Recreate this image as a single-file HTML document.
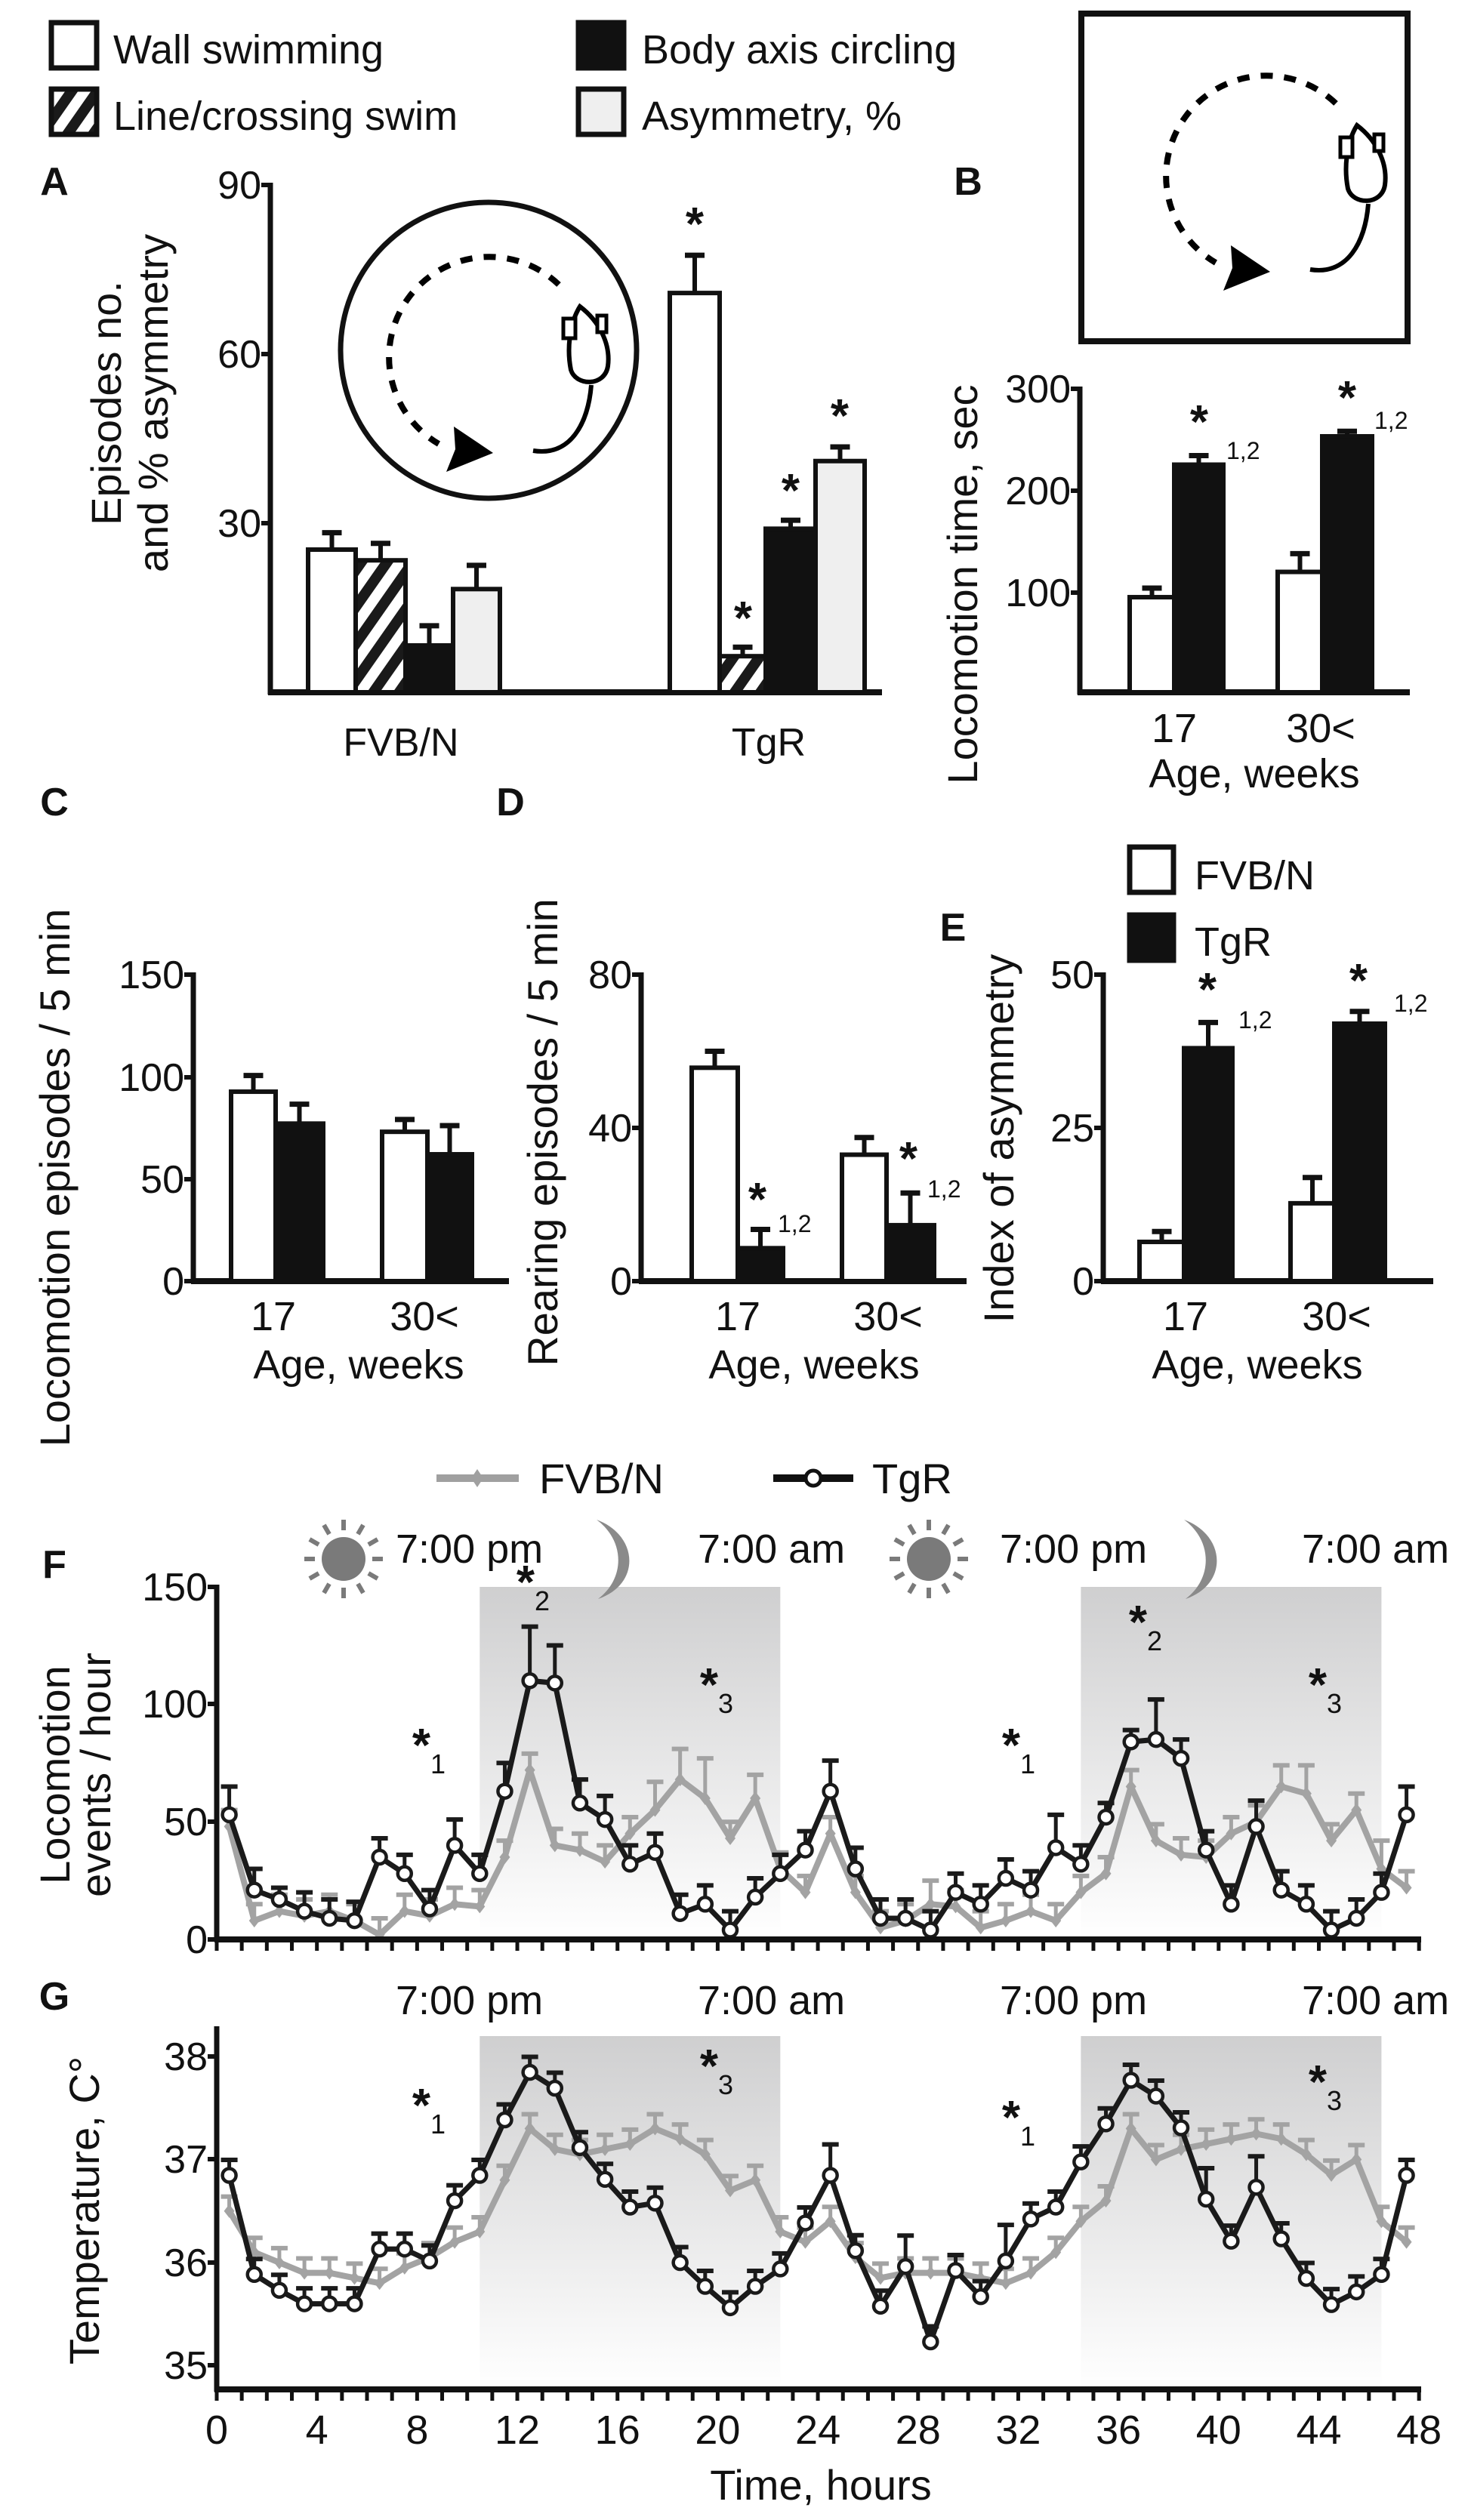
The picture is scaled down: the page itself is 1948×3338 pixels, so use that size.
<!DOCTYPE html>
<html><head><meta charset="utf-8">
<style>
html,body{margin:0;padding:0;background:#fff;}
svg{display:block;}
text{font-family:"Liberation Sans",Arial,sans-serif;fill:#111;}
</style></head>
<body>
<svg id="s" xmlns="http://www.w3.org/2000/svg" width="1948" height="3338" viewBox="0 0 1948 3338">
<defs>
<pattern id="hatch" patternUnits="userSpaceOnUse" width="28" height="28" patternTransform="rotate(35)">
<rect width="28" height="28" fill="#fff"/><rect width="14" height="28" fill="#1a1a1a"/>
</pattern>
<linearGradient id="shade" x1="0" y1="0" x2="0" y2="1">
<stop offset="0" stop-color="#cfcfd0"/><stop offset="1" stop-color="#ffffff"/>
</linearGradient>
<g id="mouse">
<path d="M1769,137 A133,133 0 1 0 1610,348" fill="none" stroke="#000" stroke-width="8" stroke-dasharray="16,15"/>
<polygon points="1630,325 1682,360 1620,385 1632,355" fill="#000"/>
<path d="M1797,166 C1782,190 1780,225 1785,250 C1792,272 1830,272 1834,245 C1838,215 1822,185 1797,166 Z" fill="#fff" stroke="#000" stroke-width="6"/>
<rect x="1775" y="182" width="16" height="26" fill="#fff" stroke="#000" stroke-width="5"/>
<rect x="1820" y="178" width="12" height="22" fill="#fff" stroke="#000" stroke-width="5"/>
<path d="M1812,270 C1808,320 1785,365 1735,357" fill="none" stroke="#000" stroke-width="6"/>
</g>
</defs>
<g id="root"></g>
</svg>
<script>
const NS="http://www.w3.org/2000/svg";
const root=document.getElementById('root');
function el(tag,attrs,txt){const e=document.createElementNS(NS,tag);for(const k in attrs)e.setAttribute(k,attrs[k]);if(txt!==undefined)e.textContent=txt;root.appendChild(e);return e;}
function line(x1,y1,x2,y2,c,w){return el('line',{x1,y1,x2,y2,stroke:c||'#111','stroke-width':w||6});}
function txt(x,y,s,size,anchor,extra){const a={x,y,'font-size':size||52,'text-anchor':anchor||'start'};Object.assign(a,extra||{});return el('text',a,s);}
function star(x,y,sub,size){const t=txt(x,y,'*',size||62,'middle',{'font-weight':'bold'});if(sub){const ts=document.createElementNS(NS,'tspan');ts.setAttribute('font-size',36);ts.setAttribute('dy',16);ts.setAttribute('font-weight','normal');ts.textContent=sub;t.appendChild(ts);}}
function small(x,y,s){txt(x,y,s,32,'start');}
function rotText(x,y,s,size){txt(x,y,s,size||54,'middle',{transform:`rotate(-90 ${x} ${y})`});}
function bar(x0,x1,yb,yt,fill,errTop){
  const cx=(x0+x1)/2;
  if(errTop!==undefined){line(cx,yt,cx,errTop,'#111',6);line(cx-13,errTop,cx+13,errTop,'#111',7);}
  el('rect',{x:x0,y:yt,width:x1-x0,height:yb-yt,fill:fill,stroke:'#111','stroke-width':6});
}
function axis(x,ytop,ybot,xr){line(x,ytop-3,x,ybot+3,'#111',7);line(x-3,ybot,xr,ybot,'#111',8);}
function ytick(x,y,label){line(x-12,y,x,y,'#111',6);txt(x-12,y+18,label,52,'end');}

// Legend top
el('rect',{x:68,y:30,width:60,height:60,fill:'#fff',stroke:'#111','stroke-width':7});
txt(150,84,'Wall swimming',54);
el('rect',{x:766,y:30,width:60,height:60,fill:'#111',stroke:'#111','stroke-width':7});
txt(850,84,'Body axis circling',54);
el('rect',{x:68,y:118,width:60,height:60,fill:'url(#hatch)',stroke:'#111','stroke-width':7});
txt(150,172,'Line/crossing swim',54);
el('rect',{x:766,y:118,width:60,height:60,fill:'#efefef',stroke:'#111','stroke-width':7});
txt(850,172,'Asymmetry, %',54);

// Panel A
txt(72,258,'A',52,'middle',{'font-weight':'bold'});
axis(358,245,917,1168);
[[90,245],[60,469],[30,693]].forEach(([v,y])=>ytick(358,y,v));
el('circle',{cx:647,cy:464,r:196,fill:'none',stroke:'#111','stroke-width':7});
el('use',{href:'#mouse',transform:'translate(-1029,240)'});
const sA=7.47;
function yA(v){return 917-v*sA;}
[[408,471,25.3,28.3,'#fff'],[471,537,23.4,26.4,'url(#hatch)'],[537,600,8.3,11.8,'#111'],[600,662,18.3,22.5,'#efefef'],
 [887,953,70.8,77.5,'#fff'],[953,1014,6.4,8,'url(#hatch)'],[1014,1080,29,30.5,'#111'],[1080,1145,41,43.5,'#efefef']].forEach(b=>bar(b[0],b[1],917,yA(b[2]),b[4],yA(b[3])));
star(920,318);star(984,840);star(1047,671);star(1112,572);
txt(531,1001,'FVB/N',52,'middle');txt(1018,1001,'TgR',52,'middle');
rotText(160,534,'Episodes no.',56);rotText(222,534,'and % asymmetry',56);

// Panel B
el('rect',{x:1432,y:18,width:432,height:434,fill:'none',stroke:'#111','stroke-width':8});
el('use',{href:'#mouse'});
txt(1282,258,'B',52,'middle',{'font-weight':'bold'});
axis(1430,515,917,1867);
[[300,515],[200,650],[100,785]].forEach(([v,y])=>ytick(1430,y,v));
function yB(v){return 917-v*1.34;}
bar(1496,1555,917,yB(94),'#fff',yB(103));
bar(1555,1620,917,yB(225),'#111',yB(234));
bar(1692,1751,917,yB(119),'#fff',yB(137));
bar(1751,1817,917,yB(253),'#111',yB(258));
star(1588,580);star(1784,548);small(1624,608,'1,2');small(1820,568,'1,2');
txt(1555,983,'17',54,'middle');txt(1749,983,'30<',54,'middle');txt(1661,1043,'Age, weeks',54,'middle');
rotText(1294,774,'Locomotion time, sec',56);

// Panel C
txt(72,1080,'C',52,'middle',{'font-weight':'bold'});
axis(256,1291,1697,674);
[[150,1291],[100,1427],[50,1562],[0,1697]].forEach(([v,y])=>ytick(256,y,v));
function yC(v){return 1697-v*2.71;}
bar(306,365,1697,yC(92.6),'#fff',yC(100.5));
bar(365,428,1697,yC(77),'#111',yC(86.5));
bar(506,566,1697,yC(73),'#fff',yC(79));
bar(566,625,1697,yC(62),'#111',yC(76));
txt(362,1762,'17',54,'middle');txt(562,1762,'30<',54,'middle');txt(475,1826,'Age, weeks',54,'middle');
rotText(92,1560,'Locomotion episodes / 5 min',56);

// Panel D
txt(676,1080,'D',52,'middle',{'font-weight':'bold'});
axis(849,1291,1697,1280);
[[80,1291],[40,1494],[0,1697]].forEach(([v,y])=>ytick(849,y,v));
function yD(v){return 1697-v*5.075;}
bar(916,977,1697,yD(55.7),'#fff',yD(60));
bar(977,1037,1697,yD(8.6),'#111',yD(13.5));
bar(1115,1174,1697,yD(33),'#fff',yD(37.5));
bar(1174,1237,1697,yD(14.6),'#111',yD(23));
star(1003,1610);star(1203,1556);small(1030,1632,'1,2');small(1228,1586,'1,2');
txt(977,1762,'17',54,'middle');txt(1176,1762,'30<',54,'middle');txt(1078,1826,'Age, weeks',54,'middle');
rotText(738,1500,'Rearing episodes / 5 min',56);

// Panel E
txt(1262,1246,'E',52,'middle',{'font-weight':'bold'});
el('rect',{x:1496,y:1122,width:58,height:60,fill:'#fff',stroke:'#111','stroke-width':7});
txt(1582,1178,'FVB/N',54);
el('rect',{x:1496,y:1212,width:58,height:60,fill:'#111',stroke:'#111','stroke-width':7});
txt(1582,1266,'TgR',54);
axis(1461,1291,1697,1898);
[[50,1291],[25,1494],[0,1697]].forEach(([v,y])=>ytick(1461,y,v));
function yE(v){return 1697-v*8.12;}
bar(1509,1568,1697,yE(6.4),'#fff',yE(8.1));
bar(1568,1632,1697,yE(38),'#111',yE(42.2));
bar(1709,1767,1697,yE(12.7),'#fff',yE(16.9));
bar(1767,1834,1697,yE(42),'#111',yE(44));
star(1599,1332);star(1799,1320);small(1640,1362,'1,2');small(1846,1340,'1,2');
txt(1570,1762,'17',54,'middle');txt(1770,1762,'30<',54,'middle');txt(1665,1826,'Age, weeks',54,'middle');
rotText(1342,1508,'Index of asymmetry',56);

// Legend F/G
line(578,1958,687,1958,'#a0a0a0',10);el('path',{d:'M632,1946 l8,12 l-8,12 l-8,-12z',fill:'#a0a0a0'});
txt(714,1978,'FVB/N',56);
line(1024,1958,1130,1958,'#111',10);el('circle',{cx:1077,cy:1958,r:10,fill:'#fff',stroke:'#111','stroke-width':5});
txt(1155,1978,'TgR',56);

function X(t){return 287+t*33.17;}
function sun(cx,cy){el('circle',{cx,cy,r:29,fill:'#7a7a7a'});for(let i=0;i<12;i++){const a=i*Math.PI/6;line(cx+38*Math.cos(a),cy+38*Math.sin(a),cx+52*Math.cos(a),cy+52*Math.sin(a),'#7a7a7a',6);}}
function moon(x,y){el('path',{d:`M${x},${y} C${x+55},${y+20} ${x+60},${y+85} ${x+2},${y+105} C${x+38},${y+78} ${x+38},${y+28} ${x},${y} Z`,fill:'#8a8a8a'});}

// Panel F
el('rect',{x:X(10.5),y:2102,width:X(22.5)-X(10.5),height:467,fill:'url(#shade)'});
el('rect',{x:X(34.5),y:2102,width:X(46.5)-X(34.5),height:467,fill:'url(#shade)'});
sun(455,2065);sun(1230,2065);moon(790,2013);moon(1568,2013);
txt(524,2070,'7:00 pm',54);txt(924,2070,'7:00 am',54);txt(1324,2070,'7:00 pm',54);txt(1724,2070,'7:00 am',54);
txt(72,2090,'F',52,'middle',{'font-weight':'bold'});
const fT=[53,21,17,12,9,8,35,28,13,40,28,63,110,109,58,51,32,37,11,15,4,18,28,38,63,30,9,9,4,20,15,26,21,39,32,52,84,85,77,38,15,48,21,15,4,9,20,53];
const fTe={0:12,1:9,2:5,6:8,9:11,11:12,12:23,13:16,14:10,15:10,24:13,25:9,33:14,35:6,36:5,37:17,38:8,41:11,47:12};
const fF=[48,8,12,10,12,8,2,12,10,15,14,35,72,40,38,33,45,55,68,60,43,60,30,20,45,20,5,8,15,14,5,8,12,8,20,28,65,42,36,35,45,50,65,62,42,55,30,22];
const fFe={17:12,18:13,19:17,21:10,28:10,42:9,43:12,46:12};
function yF(v){return 2569-v*3.116;}
function series(data,errs,defE,yf,color,marker){
  const pts=data.map((v,i)=>[X(i+0.5),yf(v)]);
  data.forEach((v,i)=>{const e=(errs[i]!==undefined?errs[i]:defE);const x=X(i+0.5),y0=yf(v),y1=yf(v+e);line(x,y0,x,y1,color,5);line(x-11,y1,x+11,y1,color,6);});
  el('polyline',{points:pts.map(p=>p.join(',')).join(' '),fill:'none',stroke:color,'stroke-width':marker?7:8,'stroke-linejoin':'round'});
  pts.forEach(p=>{if(marker)el('circle',{cx:p[0],cy:p[1],r:9,fill:'#fff',stroke:color,'stroke-width':4.5});else el('path',{d:`M${p[0]},${p[1]-9} l7,9 l-7,9 l-7,-9z`,fill:color});});
}
series(fF,fFe,7,yF,'#a3a3a3',false);
series(fT,fTe,8,yF,'#1a1a1a',true);
axis(287,2102,2569,1882);
[[150,2102],[100,2257],[50,2413],[0,2569]].forEach(([v,y])=>ytick(287,y,v));
for(let t=0;t<=48;t++)line(X(t),2569,X(t),2584,'#111',5);
star(568,2333,'1');star(706,2117,'2');star(949,2253,'3');star(1349,2333,'1');star(1517,2170,'2');star(1755,2253,'3');
txt(92,2351,'Locomotion',56,'middle',{transform:'rotate(-90 92 2351)'});
txt(146,2351,'events / hour',56,'middle',{transform:'rotate(-90 146 2351)'});

// Panel G
el('rect',{x:X(10.5),y:2697,width:X(22.5)-X(10.5),height:468,fill:'url(#shade)'});
el('rect',{x:X(34.5),y:2697,width:X(46.5)-X(34.5),height:468,fill:'url(#shade)'});
txt(524,2668,'7:00 pm',54);txt(924,2668,'7:00 am',54);txt(1324,2668,'7:00 pm',54);txt(1724,2668,'7:00 am',54);
txt(72,2662,'G',52,'middle',{'font-weight':'bold'});
function yG(v){return 2724+(38-v)*136.5;}
const gZ=[1125,1250,1270,1287,1287,1287,1218,1218,1233,1157,1125,1055,995,1015,1090,1130,1165,1160,1235,1265,1292,1265,1243,1185,1125,1220,1290,1240,1335,1245,1278,1233,1180,1165,1108,1060,1005,1025,1065,1155,1208,1140,1205,1255,1288,1272,1250,1125];
const gT=gZ.map(z=>38-(z-975)/130);
const gF=[36.5,36.1,36.0,35.9,35.9,35.85,35.8,35.95,36.05,36.2,36.3,36.8,37.3,37.1,37.05,37.1,37.15,37.3,37.2,37.05,36.7,36.8,36.3,36.2,36.4,36.05,35.85,35.9,35.9,35.9,35.85,35.8,35.9,36.1,36.4,36.6,37.3,37.0,37.1,37.15,37.2,37.25,37.2,37.05,36.85,37.0,36.4,36.2];
series(gF,{},0.14,yG,'#a3a3a3',false);
series(gT,{24:0.3,27:0.3,31:0.35,39:0.3,41:0.3},0.15,yG,'#1a1a1a',true);
axis(287,2687,3165,1882);
[[38,2724],[37,2860],[36,2997],[35,3133]].forEach(([v,y])=>ytick(287,y,v));
for(let t=0;t<=48;t++)line(X(t),3165,X(t),3180,'#111',5);
for(let t=0;t<=48;t+=4)txt(X(t),3237,String(t),54,'middle');
txt(1087,3311,'Time, hours',56,'middle');
star(568,2810,'1');star(949,2758,'3');star(1349,2826,'1');star(1755,2779,'3');
txt(131,2928,'Temperature, C°',56,'middle',{transform:'rotate(-90 131 2928)'});
</script>
</body></html>
